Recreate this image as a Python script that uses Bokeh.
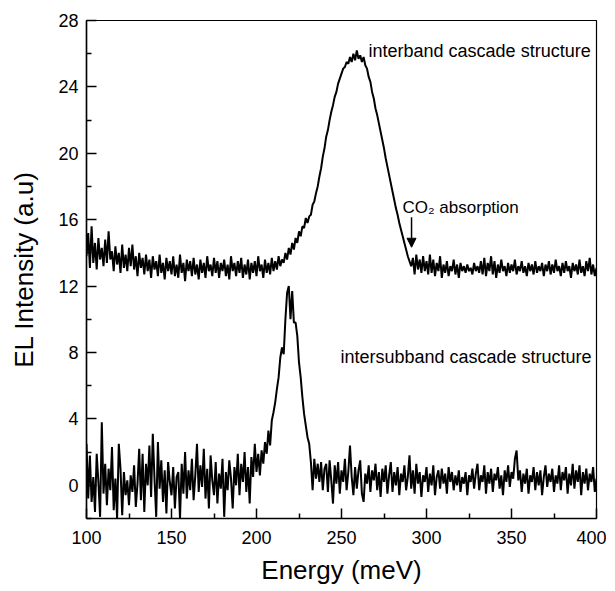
from bokeh.plotting import figure
from bokeh.models import FixedTicker, Label, Arrow, NormalHead, Range1d
from bokeh.embed import file_html
from bokeh.resources import INLINE

# ---------------- data (1 meV steps) ----------------
energy = list(range(100, 401))

interband = [
    13.8, 15.2, 13.1, 15.6, 13.4, 14.6, 13.0, 14.9, 13.6, 14.3,
    13.2, 14.8, 13.4, 15.3, 13.6, 14.1, 12.9, 14.4, 13.3, 14.0,
    12.8, 14.5, 13.1, 13.9, 12.9, 14.3, 13.2, 14.5, 13.0, 13.8,
    12.6, 14.0, 13.1, 13.7, 12.7, 13.9, 12.9, 13.6, 12.5, 13.8,
    13.0, 13.5, 12.6, 13.9, 12.8, 13.4, 12.4, 13.7, 12.9, 13.5,
    12.7, 13.8, 12.6, 13.3, 12.5, 13.9, 12.8, 13.4, 12.3, 13.6,
    12.9, 13.5, 12.6, 13.7, 12.7, 13.3, 12.4, 13.6, 12.8, 13.4,
    12.5, 13.8, 12.9, 13.3, 12.6, 13.7, 12.8, 13.5, 12.5, 13.4,
    12.9, 13.6, 12.6, 13.3, 12.4, 13.8, 12.9, 13.4, 12.6, 13.5,
    12.8, 13.7, 12.5, 13.3, 12.7, 13.6, 12.4, 13.4, 12.8, 13.5,
    12.6, 13.8, 12.9, 13.3, 12.5, 13.6, 12.8, 13.4, 12.7, 13.7,
    12.9, 13.5, 13.0, 13.8, 13.2, 13.6, 13.4, 14.0, 13.6, 14.3,
    13.9, 14.6, 14.2, 14.9, 14.6, 15.3, 15.0, 15.6, 15.5, 16.1,
    15.8, 16.2, 16.3, 16.9, 17.1, 17.6, 18.0, 18.6, 19.1, 19.8,
    20.3, 21.0, 21.4, 22.0, 22.5, 22.9, 23.4, 23.7, 24.2, 24.5,
    24.8, 25.1, 25.2, 25.5, 25.4, 25.8, 25.5, 26.0, 25.6, 26.2,
    25.7, 25.9, 25.5, 25.8, 25.3, 25.1, 24.6, 24.3, 23.7, 23.3,
    22.7, 22.3, 21.8, 21.3, 20.8, 20.3, 19.7, 19.2, 18.7, 18.2,
    17.7, 17.2, 16.7, 16.3, 15.8, 15.4, 15.0, 14.6, 14.2, 13.8,
    13.5, 13.2, 13.7, 12.7, 13.9, 13.0, 13.6, 12.8, 13.8, 12.9,
    13.5, 12.7, 13.9, 12.8, 13.6, 12.6, 13.4, 12.9, 13.8, 12.5,
    13.3, 12.8, 13.5, 12.6, 13.2, 12.9, 13.6, 12.7, 13.3, 12.5,
    13.4, 12.9, 13.2, 12.8, 13.3, 12.9, 13.1, 12.7, 13.4, 12.9,
    13.2, 12.8, 13.5, 12.7, 13.7, 12.6, 13.4, 12.9, 13.8, 12.7,
    13.5, 12.5, 13.3, 12.8, 13.6, 12.9, 13.2, 12.6, 13.4, 12.8,
    13.3, 12.9, 13.6, 12.7, 13.2, 12.9, 13.5, 12.8, 13.2, 12.6,
    13.4, 12.9, 13.3, 12.7, 13.5, 12.8, 13.2, 12.9, 13.4, 12.6,
    13.3, 12.9, 13.5, 12.7, 13.3, 12.8, 13.6, 12.9, 13.2, 12.6,
    13.4, 12.8, 13.5, 12.9, 13.2, 12.5, 13.4, 12.9, 13.3, 12.7,
    13.6, 12.8, 13.2, 12.6, 13.5, 12.9, 13.7, 12.7, 13.3, 12.6,
    13.1,
]

intersubband = [
    2.5, -0.8, 1.8, -1.0, 0.5, -1.6, 1.9, 0.2, -1.9, 3.8,
    -0.5, 1.3, -1.2, 1.0, -0.3, 2.3, -1.5, 0.4, -2.0, 2.5,
    1.0, -1.8, 0.8, -0.6, 0.3, -1.2, 0.6, -0.4, 1.2, -1.3,
    0.1, 2.2, -0.9, 1.9, -1.6, 1.3, 0.0, 2.4, -0.7, 3.1,
    0.4, -1.9, 2.6, -0.2, 1.5, -1.0, 0.9, -1.7, 1.4, 0.2,
    -0.6, 1.1, -1.4, 0.5, 0.8, -2.0, 1.3, -0.5, 2.0, -0.8,
    0.9, -0.3, 1.6, -0.9, 0.6, 2.5, -0.4, 1.2, -0.1, 2.2,
    -0.8, 1.0, -1.4, 1.8, 0.3, -0.6, 1.4, -1.1, 0.7, -0.2,
    1.6, -1.9, 0.8, -0.3, 1.5, 0.4, -1.4, 1.1, 0.0, 1.9,
    -0.6, 1.3, 0.2, 2.0, -0.4, 1.1, -1.1, 1.7, 0.5, 2.5,
    0.8, 1.9, 0.6, 2.1, 1.3, 2.6, 1.9, 3.3, 2.4, 3.9,
    4.4, 5.0, 5.8, 6.5, 7.7, 8.3, 7.9, 10.0, 11.6, 12.0,
    10.0, 11.7, 9.8, 9.8, 9.0, 7.4, 6.5, 5.3, 4.3, 3.6,
    2.9, 2.5, 1.4, -0.3, 1.6, 0.4, 1.3, 0.2, 1.4, -0.3,
    1.0, 1.3, -0.4, 1.5, 0.3, -1.1, 1.2, 0.1, 1.4, -0.5,
    0.9, 0.2, 1.6, -0.3, 0.8, 2.4, 0.5, -0.6, 1.1, -0.2,
    0.9, 1.5, -0.5, -1.0, 0.7, 0.1, 1.2, -0.4, 0.9, 0.3,
    1.3, -0.3, 0.8, -0.7, 1.0, 0.2, 1.2, -0.5, 0.6, 1.4,
    -0.4, 0.8, 0.0, 1.1, -0.6, 0.7, 0.2, 1.2, -0.3, 0.5,
    1.8, -0.2, 0.9, -0.5, 1.3, 0.1, 0.8, -0.7, 0.6, 0.2,
    1.1, -0.4, 0.7, 0.0, 1.2, -0.6, 0.5, 0.9, -0.2, 1.0,
    0.1, 0.7, -0.5, 1.1, 0.2, 0.8, -0.3, 0.6, 0.0, 0.9,
    -0.4, 0.5, 0.1, 0.8, -0.6, 0.6, 0.2, 1.0, -0.2, 0.7,
    1.3, -0.3, 0.6, 0.2, 1.2, -0.5, 0.8, 0.1, 1.0, -0.4,
    0.7, 0.3, 1.1, -0.2, 0.6, -0.6, 0.9, 0.2, 1.2, -0.1,
    0.8, 0.4, 1.6, 2.1, 0.3, 0.9, -0.4, 0.7, 0.1, 1.0,
    -0.5, 0.6, 0.2, 1.1, -0.3, 0.8, 0.0, 0.9, -0.6, 0.5,
    1.2, -0.1, 0.7, 0.2, 1.0, -0.4, 0.6, 0.1, 1.2, -0.3,
    0.8, 0.3, 1.1, -0.5, 0.7, 0.0, 1.3, -0.2, 0.9, 0.2,
    1.2, -0.6, 0.8, 0.1, 1.0, -0.3, 0.7, 0.2, 1.1, -0.4,
    0.4,
]

x_major_ticks = [100, 150, 200, 250, 300, 350, 400]
x_minor_ticks = [125, 175, 225, 275, 325, 375]
y_major_ticks = [0, 4, 8, 12, 16, 20, 24, 28]
y_minor_ticks = [-2, 2, 6, 10, 14, 18, 22, 26]

FONT = "Liberation Sans"

p = figure(width=606, height=591,
           x_range=Range1d(100, 400), y_range=Range1d(-2, 28),
           output_backend="svg", toolbar_location=None,
           min_border_left=86, min_border_right=10,
           min_border_top=20, min_border_bottom=73)

p.xgrid.visible = False
p.ygrid.visible = False
p.outline_line_color = "black"
p.outline_line_width = 1.2
p.background_fill_color = "white"
p.border_fill_color = "white"

p.line(energy, interband, line_color="black", line_width=2.0)
p.line(energy, intersubband, line_color="black", line_width=2.0)

p.xaxis.ticker = FixedTicker(ticks=x_major_ticks, minor_ticks=x_minor_ticks)
p.yaxis.ticker = FixedTicker(ticks=y_major_ticks, minor_ticks=y_minor_ticks)

for ax in (p.xaxis[0], p.yaxis[0]):
    ax.major_tick_in = 10
    ax.major_tick_out = 0
    ax.minor_tick_in = 5
    ax.minor_tick_out = 0
    ax.major_tick_line_width = 1.5
    ax.minor_tick_line_width = 1.5
    ax.axis_line_width = 1.5
    ax.axis_line_color = "black"
    ax.major_tick_line_color = "black"
    ax.minor_tick_line_color = "black"
    ax.major_label_text_font = FONT
    ax.major_label_text_font_size = "18px"
    ax.major_label_text_color = "black"
    ax.axis_label_text_font = FONT
    ax.axis_label_text_font_size = "26px"
    ax.axis_label_text_font_style = "normal"
    ax.axis_label_text_color = "black"

p.xaxis.major_label_standoff = 12
p.yaxis.major_label_standoff = 8
p.xaxis.axis_label = "Energy (meV)"
p.yaxis.axis_label = "EL Intensity (a.u)"
p.xaxis.axis_label_standoff = 8
p.yaxis.axis_label_standoff = 16

p.add_layout(Label(x=265.9, y=26.19, text="interband cascade structure",
                   text_font=FONT, text_font_size="18px",
                   text_baseline="alphabetic", text_color="black"))
p.add_layout(Label(x=249.4, y=7.72, text="intersubband cascade structure",
                   text_font=FONT, text_font_size="18px",
                   text_baseline="alphabetic", text_color="black"))
p.add_layout(Label(x=285.9, y=16.72, text="CO\u2082 absorption",
                   text_font=FONT, text_font_size="17px",
                   text_baseline="alphabetic", text_color="black"))
p.add_layout(Arrow(end=NormalHead(size=9, fill_color="black", line_color="black"),
                   x_start=291.2, y_start=16.15, x_end=291.2, y_end=14.34,
                   line_width=1.5, line_color="black"))

open("out.html", "w").write(file_html(p, INLINE))
